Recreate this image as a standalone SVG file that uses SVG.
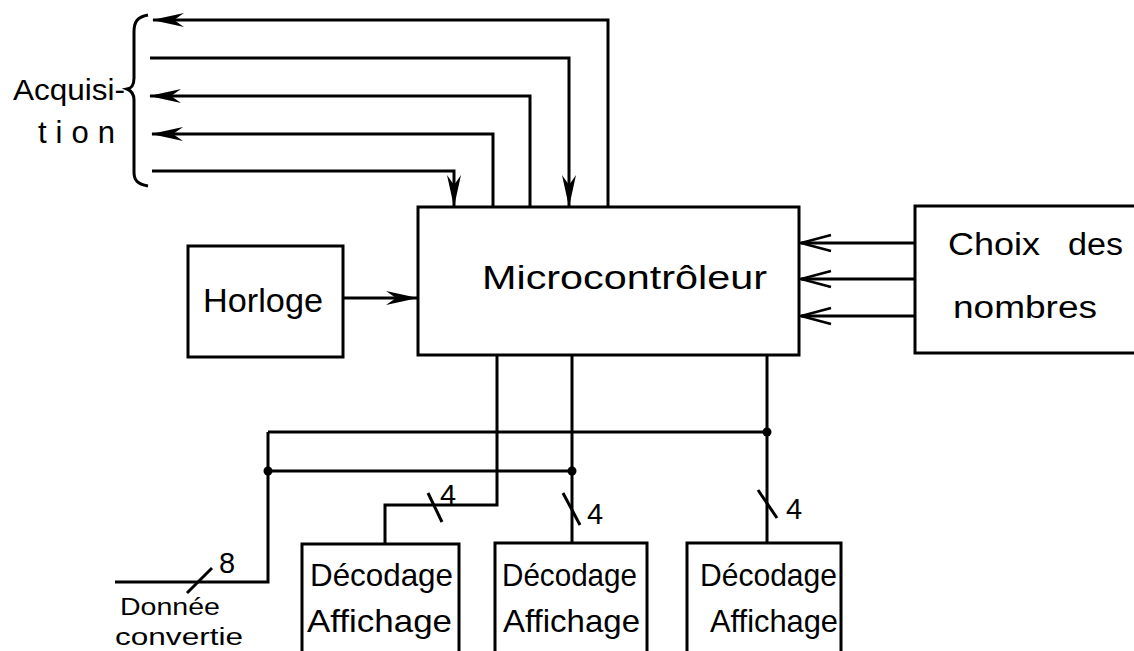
<svg xmlns="http://www.w3.org/2000/svg" width="1134" height="651" viewBox="0 0 1134 651">
<style>
.box{fill:#fff;stroke:#000;stroke-width:3}
.ln{fill:none;stroke:#000;stroke-width:3;stroke-linejoin:miter}
.t{font-family:"Liberation Sans",Arial,sans-serif;fill:#000}
.dot{fill:#000}
</style>
<defs>
<marker id="ah" markerUnits="userSpaceOnUse" markerWidth="32" markerHeight="16" viewBox="0 0 32 16" refX="31" refY="8" orient="auto">
<path d="M0,1 L32,8 L0,15 L10,8 Z" fill="#000"/>
</marker>
<marker id="chev" markerUnits="userSpaceOnUse" markerWidth="34" markerHeight="20" viewBox="0 0 34 20" refX="32" refY="10" orient="auto">
<path d="M2,2 L32,10 L2,18" fill="none" stroke="#000" stroke-width="2.5"/>
</marker>
</defs>
<rect width="1134" height="651" fill="#fff"/>

<g id="connectors">
<path class="ln" d="M608,207 V20 H153" marker-end="url(#ah)"/>
<path class="ln" d="M150,58 H569 V206" marker-end="url(#ah)"/>
<path class="ln" d="M530,207 V96 H150" marker-end="url(#ah)"/>
<path class="ln" d="M493,207 V134 H152" marker-end="url(#ah)"/>
<path class="ln" d="M152,171 H454 V206" marker-end="url(#ah)"/>
<path class="ln" d="M343,298 H417" marker-end="url(#ah)"/>
<path class="ln" d="M915,243 H801" marker-end="url(#chev)"/>
<path class="ln" d="M915,279 H801" marker-end="url(#chev)"/>
<path class="ln" d="M915,316 H801" marker-end="url(#chev)"/>
<path class="ln" d="M497,355 V505 H385 V544"/>
<path class="ln" d="M572,355 V544"/>
<path class="ln" d="M767,355 V544"/>
<path class="ln" d="M268,432 H767"/>
<path class="ln" d="M268,471 H572"/>
<path class="ln" d="M268,432 V582 H115"/>
<circle class="dot" cx="268" cy="471" r="4.5"/>
<circle class="dot" cx="572" cy="471" r="4.5"/>
<circle class="dot" cx="767" cy="432" r="4.5"/>
<path class="ln" d="M428,493 L442,522"/>
<path class="ln" d="M563,493 L580,525"/>
<path class="ln" d="M758,490 L777,518"/>
<path class="ln" d="M187,593 L212,568"/>
<text class="t" x="440" y="505" font-size="29">4</text>
<text class="t" x="587" y="524" font-size="29">4</text>
<text class="t" x="786" y="519" font-size="29">4</text>
<text class="t" x="219" y="573" font-size="29">8</text>
</g>

<g id="node-acquisition">
<path class="ln" d="M148,15 C137,17 134,22 134,32 L134,78 C134,85 132,88 127,89 C132,91 134,94 134,100 L134,172 C134,180 137,184 148,186"/>
<text class="t" x="13" y="100" font-size="29" textLength="112" lengthAdjust="spacingAndGlyphs">Acquisi-</text>
<text class="t" x="38" y="143" font-size="31" textLength="77" lengthAdjust="spacing">tion</text>
</g>

<g id="node-micro">
<rect class="box" x="418" y="207" width="381" height="148"/>
<text class="t" x="482" y="289" font-size="34" textLength="285" lengthAdjust="spacingAndGlyphs">Microcontrôleur</text>
</g>

<g id="node-horloge">
<rect class="box" x="188" y="246" width="155" height="111"/>
<text class="t" x="203" y="312" font-size="33" textLength="120" lengthAdjust="spacingAndGlyphs">Horloge</text>
</g>

<g id="node-choix">
<rect class="box" x="915" y="206" width="230" height="147"/>
<text class="t" y="255" font-size="31"><tspan x="948" textLength="92" lengthAdjust="spacingAndGlyphs">Choix</tspan> <tspan x="1068" textLength="55" lengthAdjust="spacingAndGlyphs">des</tspan></text>
<text class="t" x="953" y="318" font-size="31" textLength="144" lengthAdjust="spacingAndGlyphs">nombres</text>
</g>

<g id="node-decodage1">
<rect class="box" x="302" y="544" width="157" height="120"/>
<text class="t" x="310" y="586" font-size="32" textLength="143" lengthAdjust="spacingAndGlyphs">Décodage</text>
<text class="t" x="307" y="632" font-size="32" textLength="145" lengthAdjust="spacingAndGlyphs">Affichage</text>
</g>

<g id="node-decodage2">
<rect class="box" x="495" y="543" width="152" height="120"/>
<text class="t" x="502" y="586" font-size="32" textLength="135" lengthAdjust="spacingAndGlyphs">Décodage</text>
<text class="t" x="503" y="632" font-size="32" textLength="137" lengthAdjust="spacingAndGlyphs">Affichage</text>
</g>

<g id="node-decodage3">
<rect class="box" x="687" y="543" width="154" height="120"/>
<text class="t" x="700" y="586" font-size="32" textLength="137" lengthAdjust="spacingAndGlyphs">Décodage</text>
<text class="t" x="710" y="632" font-size="32" textLength="128" lengthAdjust="spacingAndGlyphs">Affichage</text>
</g>

<g id="node-donnee">
<text class="t" x="120" y="615" font-size="23" textLength="100" lengthAdjust="spacingAndGlyphs">Donnée</text>
<text class="t" x="115" y="645" font-size="23" textLength="128" lengthAdjust="spacingAndGlyphs">convertie</text>
</g>
</svg>
